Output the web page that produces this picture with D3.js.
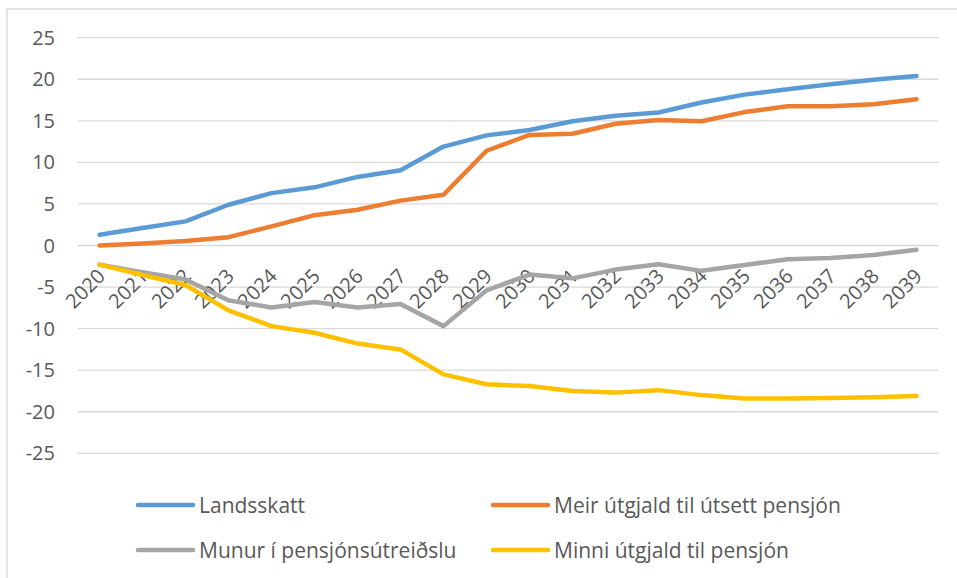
<!DOCTYPE html>
<html>
<head>
<meta charset="utf-8">
<script src="https://cdn.jsdelivr.net/npm/d3@7"></script>
<style>
  body { margin: 0; background: #fff; }
  text { font-family: "Open Sans", sans-serif; fill: #595959; }
</style>
</head>
<body>
<div id="chart"></div>
<script>
// years on the category axis
const years = d3.range(2020, 2040).map(String);

// series values
const landsskatt = [1.3, 2.1, 2.9, 4.9, 6.3, 7.0, 8.25, 9.05, 11.9, 13.25, 13.9, 14.95, 15.6, 16.0, 17.2, 18.15, 18.8, 19.4, 19.95, 20.4];
const meirUtgjald = [0.0, 0.25, 0.55, 1.0, 2.3, 3.65, 4.3, 5.4, 6.1, 11.4, 13.3, 13.45, 14.65, 15.1, 14.95, 16.05, 16.75, 16.75, 17.0, 17.6];
const munur = [-2.3, -3.2, -4.1, -6.6, -7.45, -6.8, -7.45, -7.05, -9.7, -5.4, -3.5, -3.95, -2.9, -2.25, -3.05, -2.35, -1.65, -1.5, -1.15, -0.5];
const minniUtgjald = [-2.3, -3.55, -4.75, -7.8, -9.7, -10.5, -11.8, -12.5, -15.5, -16.7, -16.9, -17.5, -17.7, -17.4, -18.0, -18.4, -18.4, -18.35, -18.25, -18.1];

const seriesNames = ["Landsskatt", "Meir útgjald til útsett pensjón", "Munur í pensjónsútreiðslu", "Minni útgjald til pensjón"];
const seriesColors = ["#5b9bd5", "#ed7d31", "#a5a5a5", "#ffc000"];
const yTicks = [25, 20, 15, 10, 5, 0, -5, -10, -15, -20, -25];

const series = [landsskatt, meirUtgjald, munur, minniUtgjald].map((values, i) => ({
  name: seriesNames[i], color: seriesColors[i], values
}));

const width = 957, height = 578;
const margin = { top: 37.7, right: 19, bottom: 124.7, left: 78 };

const svg = d3.select("#chart").append("svg")
  .attr("width", width)
  .attr("height", height);

// chart area border (only left and top are inside the crop)
svg.append("path")
  .attr("d", `M7,${height} V9 H${width}`)
  .attr("fill", "none")
  .attr("stroke", "#d9d9d9")
  .attr("stroke-width", 1.3);

const x = d3.scaleBand()
  .domain(years)
  .range([margin.left, width - margin.right]);

const y = d3.scaleLinear()
  .domain([-25, 25])
  .range([height - margin.bottom, margin.top]);

// horizontal grid
svg.append("g")
  .selectAll("line")
  .data(yTicks)
  .join("line")
  .attr("x1", margin.left)
  .attr("x2", width - margin.right)
  .attr("y1", d => y(d))
  .attr("y2", d => y(d))
  .attr("stroke", "#d9d9d9")
  .attr("stroke-width", 1.3);

// y labels
svg.append("g")
  .selectAll("text")
  .data(yTicks)
  .join("text")
  .attr("x", 55)
  .attr("y", d => y(d) + 7)
  .attr("text-anchor", "end")
  .style("font-size", "20px")
  .text(d => d);

// x labels, rotated, sitting just under the zero line
svg.append("g")
  .selectAll("text")
  .data(years)
  .join("text")
  .attr("transform", d => `translate(${x(d) + x.bandwidth() / 2 + 2},${y(0) + 27}) rotate(-45)`)
  .attr("text-anchor", "end")
  .attr("dy", "0.35em")
  .style("font-size", "20px")
  .text(d => d);

const line = d3.line()
  .x((d, i) => x(years[i]) + x.bandwidth() / 2)
  .y(d => y(d));

svg.append("g")
  .selectAll("path")
  .data(series)
  .join("path")
  .attr("d", d => line(d.values))
  .attr("fill", "none")
  .attr("stroke", d => d.color)
  .attr("stroke-width", 4.5)
  .attr("stroke-linejoin", "round")
  .attr("stroke-linecap", "round");

// legend, two columns
const legend = svg.append("g")
  .selectAll("g")
  .data(series)
  .join("g")
  .attr("transform", (d, i) => `translate(${i % 2 ? 493 : 138},${i < 2 ? 505 : 550})`);

legend.append("line")
  .attr("x1", 0).attr("x2", 55)
  .attr("stroke", d => d.color)
  .attr("stroke-width", 4.5)
  .attr("stroke-linecap", "round");

legend.append("text")
  .attr("x", 61)
  .attr("y", 7.5)
  .style("font-size", "21px")
  .text(d => d.name);
</script>
</body>
</html>
